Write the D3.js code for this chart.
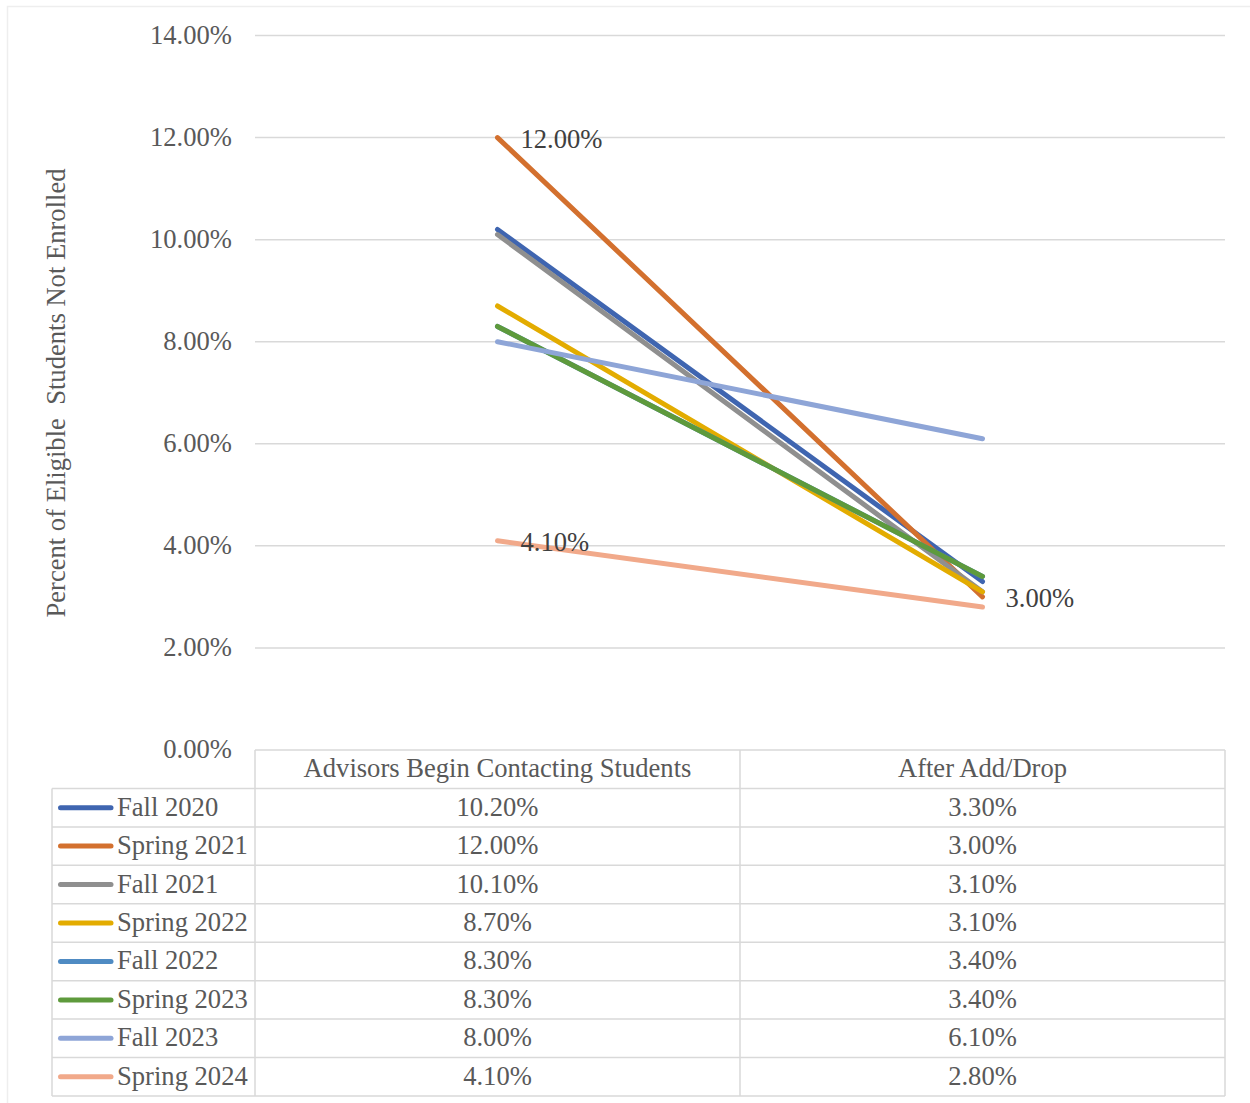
<!DOCTYPE html>
<html>
<head>
<meta charset="utf-8">
<script src="https://cdn.jsdelivr.net/npm/d3@7"></script>
<style>
  html, body { margin: 0; padding: 0; background: #fff; }
  svg { display: block; }
  text { font-family: "Liberation Serif", "Times New Roman", serif; }
</style>
</head>
<body>
<svg id="chart" width="1250" height="1103"></svg>
<script>
// ---- data ----
const categories = ["Advisors Begin Contacting Students", "After Add/Drop"];
const seriesNames = ["Fall 2020", "Spring 2021", "Fall 2021", "Spring 2022", "Fall 2022", "Spring 2023", "Fall 2023", "Spring 2024"];
const firstValues  = [10.2, 12.0, 10.1, 8.7, 8.3, 8.3, 8.0, 4.1];
const secondValues = [3.3, 3.0, 3.1, 3.1, 3.4, 3.4, 6.1, 2.8];
const seriesColors = ["#3F65B0", "#D3702E", "#8F8F8F", "#E3AC00", "#4F8BC3", "#5E9A3C", "#8EA5D7", "#F1A98A"];
const yTicks = [0, 2, 4, 6, 8, 10, 12, 14];
// data labels shown: [series index, category index]
const shownLabels = [[1, 0], [7, 0], [1, 1]];

const series = seriesNames.map((name, i) => ({
  name, color: seriesColors[i], values: [firstValues[i], secondValues[i]]
}));

// ---- layout ----
const svg = d3.select("#chart");
const plotLeft = 255, plotRight = 1225, plotTop = 35.5, plotBottom = 750;
const legendLeft = 52;
const rowH = (1096 - 750) / 9;
const fontSize = 26.6;
const gridColor = "#d9d9d9";

// outer border
svg.append("rect").attr("x", 7.5).attr("y", 6.5).attr("width", 1260).attr("height", 1120)
  .attr("fill", "none").attr("stroke", "#eeeeee").attr("stroke-width", 1.5);

const x = d3.scaleBand().domain(categories).range([plotLeft, plotRight]);
const y = d3.scaleLinear().domain([0, 14]).range([plotBottom, plotTop]);

// gridlines
svg.append("g").selectAll("line").data(yTicks.filter(t => t > 0)).join("line")
  .attr("x1", plotLeft).attr("x2", plotRight)
  .attr("y1", d => y(d)).attr("y2", d => y(d))
  .attr("stroke", gridColor).attr("stroke-width", 1.5);

// y axis via d3.axisLeft
const yAxis = svg.append("g").attr("transform", `translate(${plotLeft},0)`)
  .call(d3.axisLeft(y).tickValues(yTicks).tickSize(0).tickPadding(23)
    .tickFormat(d => d3.format(".2f")(d) + "%"));
yAxis.select(".domain").remove();
yAxis.selectAll("text").attr("font-family", '"Liberation Serif", "Times New Roman", serif')
  .attr("font-size", fontSize).attr("fill", "#595959").attr("dy", "0.3em");

// y title
svg.append("text")
  .attr("transform", `translate(65,393) rotate(-90)`)
  .attr("text-anchor", "middle")
  .attr("font-size", fontSize).attr("fill", "#595959")
  .attr("xml:space", "preserve")
  .style("white-space", "pre")
  .text("Percent of Eligible  Students Not Enrolled");

// lines
const line = d3.line()
  .x((d, i) => x(categories[i]) + x.bandwidth() / 2)
  .y(d => y(d));
svg.append("g").selectAll("path").data(series).join("path")
  .attr("d", d => line(d.values))
  .attr("fill", "none").attr("stroke", d => d.color)
  .attr("stroke-width", 5).attr("stroke-linecap", "round");

// data labels
svg.append("g").selectAll("text").data(shownLabels).join("text")
  .attr("x", d => x(categories[d[1]]) + x.bandwidth() / 2 + 23)
  .attr("y", d => y(series[d[0]].values[d[1]]) + 2)
  .attr("dy", "0.3em")
  .attr("font-size", fontSize).attr("fill", "#404040")
  .text(d => d3.format(".2f")(series[d[0]].values[d[1]]) + "%");

// ---- data table ----
const tbl = svg.append("g");
const tableTop = plotBottom;
const tableBottom = tableTop + rowH * 9;
tbl.append("line").attr("x1", plotLeft).attr("x2", plotRight).attr("y1", tableTop).attr("y2", tableTop)
  .attr("stroke", gridColor).attr("stroke-width", 1.5);
d3.range(1, 10).forEach(r => {
  tbl.append("line").attr("x1", legendLeft).attr("x2", plotRight)
    .attr("y1", tableTop + r * rowH).attr("y2", tableTop + r * rowH)
    .attr("stroke", gridColor).attr("stroke-width", 1.5);
});
tbl.append("line").attr("x1", legendLeft).attr("x2", legendLeft)
  .attr("y1", tableTop + rowH).attr("y2", tableBottom).attr("stroke", gridColor).attr("stroke-width", 1.5);
[plotLeft, plotLeft + x.bandwidth(), plotRight].forEach(xx => {
  tbl.append("line").attr("x1", xx).attr("x2", xx)
    .attr("y1", tableTop).attr("y2", tableBottom).attr("stroke", gridColor).attr("stroke-width", 1.5);
});
tbl.selectAll("text.hdr").data(categories).join("text").attr("class", "hdr")
  .attr("x", d => x(d) + x.bandwidth() / 2)
  .attr("y", tableTop + rowH / 2).attr("dy", "0.3em")
  .attr("text-anchor", "middle").attr("font-size", fontSize).attr("fill", "#595959")
  .text(d => d);
series.forEach((s, i) => {
  const cy = tableTop + rowH * (i + 1) + rowH / 2;
  tbl.append("line").attr("x1", 60.5).attr("x2", 111).attr("y1", cy).attr("y2", cy)
    .attr("stroke", s.color).attr("stroke-width", 5).attr("stroke-linecap", "round");
  tbl.append("text").attr("x", 117).attr("y", cy).attr("dy", "0.3em")
    .attr("font-size", fontSize).attr("fill", "#595959").text(s.name);
  s.values.forEach((v, j) => {
    tbl.append("text").attr("x", x(categories[j]) + x.bandwidth() / 2).attr("y", cy).attr("dy", "0.3em")
      .attr("text-anchor", "middle").attr("font-size", fontSize).attr("fill", "#595959")
      .text(d3.format(".2f")(v) + "%");
  });
});
</script>
</body>
</html>
